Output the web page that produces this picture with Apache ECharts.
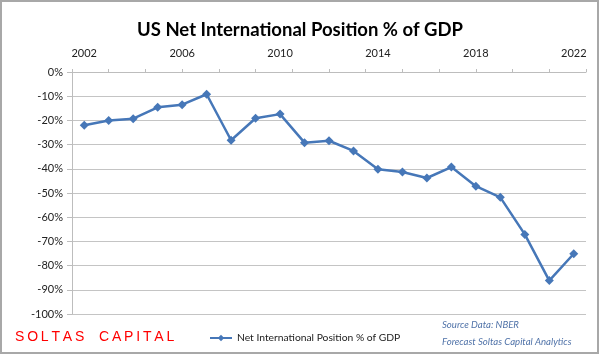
<!DOCTYPE html>
<html>
<head>
<meta charset="utf-8">
<script src="https://cdn.jsdelivr.net/npm/echarts@6/dist/echarts.min.js"></script>
<style>html,body{margin:0;padding:0;background:#fff}#c{width:600px;height:355px}</style>
</head>
<body>
<div id="c"></div>
<script>
var years = ['2002','2003','2004','2005','2006','2007','2008','2009','2010','2011','2012','2013','2014','2015','2016','2017','2018','2019','2020','2021','2022'];
var netPosition = [-22.0,-20.0,-19.3,-14.6,-13.5,-9.2,-28.2,-19.1,-17.4,-29.2,-28.4,-32.6,-40.2,-41.3,-43.8,-39.3,-47.2,-51.8,-67.1,-86.2,-75.1];
var seriesName = 'Net International Position % of GDP';
var titleText = 'US Net International Position % of GDP';
var brandWords = ['SOLTAS', 'CAPITAL'];
var sourceLines = ['Source Data: NBER', 'Forecast Soltas Capital Analytics'];

var chart = echarts.init(document.getElementById('c'), null, {renderer: 'canvas'});
var font = 'Lato, "Open Sans", sans-serif';
var brandText = brandWords.map(function (w) { return w.split('').join('\u2009'); }).join(' \u2002 ');
chart.setOption({
  animation: false,
  backgroundColor: '#fff',
  title: {
    text: titleText, left: 'center', top: 16,
    textStyle: {fontFamily: font, fontWeight: 'bold', fontSize: 18.5, color: '#000'}
  },
  grid: {left: 72, right: 14, top: 72, bottom: 41},
  legend: {
    data: [seriesName], left: 204, top: 328, itemWidth: 22, itemHeight: 8,
    textStyle: {fontFamily: font, fontSize: 10.3, color: '#222'}
  },
  xAxis: [{
    type: 'category', data: years, position: 'top', boundaryGap: true,
    axisLine: {show: true, lineStyle: {color: '#bdbdbd'}},
    axisTick: {show: false},
    axisLabel: {interval: 3, margin: 13, fontFamily: font, fontSize: 11, color: '#222'},
    splitLine: {show: false}
  }, {
    type: 'value', position: 'top', min: 0, max: years.length, interval: 1.5,
    axisLine: {show: false},
    axisTick: {show: true, length: 3, lineStyle: {color: '#bdbdbd'}},
    axisLabel: {show: false}, splitLine: {show: false}
  }],
  yAxis: {
    type: 'value', min: -100, max: 0, interval: 10,
    axisLine: {show: true, lineStyle: {color: '#bdbdbd'}},
    axisTick: {show: true, length: 5, lineStyle: {color: '#bdbdbd'}},
    axisLabel: {formatter: '{value}%', margin: 9, fontFamily: font, fontSize: 11, color: '#222'},
    splitLine: {show: true, lineStyle: {color: '#c4c4c4', width: 1.2}}
  },
  series: [{
    name: seriesName, type: 'line', xAxisIndex: 0, data: netPosition,
    symbol: 'diamond', symbolSize: 9, showSymbol: true,
    lineStyle: {color: '#4677b8', width: 2.5},
    itemStyle: {color: '#4677b8'}
  }],
  graphic: [
    {type: 'rect', shape: {x: 1, y: 1, width: 597, height: 352},
     style: {fill: 'none', stroke: '#a8a8a8', lineWidth: 2}, silent: true},
    {type: 'text', left: 15, top: 330,
     style: {text: brandText, font: '14px "Liberation Sans", Arial, sans-serif', fill: '#ff0000'}},
    {type: 'text', left: 442, top: 320,
     style: {text: sourceLines[0], font: 'italic 9.6px ' + font, fill: '#4f72a8'}},
    {type: 'text', left: 442, top: 337,
     style: {text: sourceLines[1], font: 'italic 9.6px ' + font, fill: '#4f72a8'}}
  ]
});
</script>
</body>
</html>
